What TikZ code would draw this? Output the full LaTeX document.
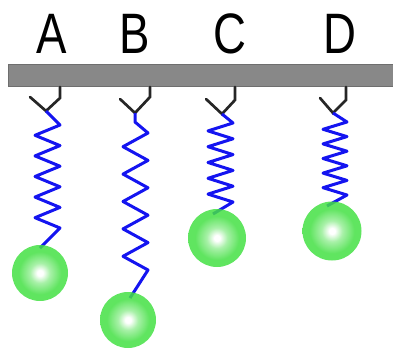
\documentclass[tikz,border=0pt]{standalone}
\usepackage{fontspec}
\setmainfont{Liberation Sans}
\usepackage{graphicx}
\definecolor{ballgreen}{RGB}{68,224,68}
\definecolor{barfill}{RGB}{136,136,136}
\definecolor{barline}{RGB}{110,110,110}
\definecolor{springblue}{RGB}{20,20,240}
\pgfdeclareradialshading{ballshade}{\pgfpoint{0bp}{0bp}}{%
  color(0bp)=(white); color(2.5bp)=(white); color(9bp)=(ballgreen!55!white); color(19bp)=(ballgreen); color(25bp)=(ballgreen); color(50bp)=(ballgreen)}
\newcommand{\drawspring}[7]{% start, end, xL, xR, y1, y6, extra
  \pgfmathsetmacro{\sp}{(#6-#5)/5}
  \draw[springst] (#1) #7 -- (#4,#5)
    \foreach \i in {1,...,5} { -- (#3,{#5+(\i-0.5)*\sp}) -- (#4,{#5+\i*\sp}) } -- (#2);
}
\begin{document}
\begin{tikzpicture}[x=1pt,y=-1pt,
  hookst/.style={line width=2.7pt,black!85,line cap=round,line join=miter},
  springst/.style={line width=3pt,springblue,line join=round},
  ballst/.style={circle,minimum size=#1,inner sep=0pt,shading=ballshade,fill opacity=0.85},
  lab/.style={anchor=base,inner sep=0pt,font=\fontsize{57}{57}\selectfont}]
\useasboundingbox (0,0) rectangle (393,351);
% labels
\node[lab] (la) at (52,53) {\scalebox{0.8}[1]{A}};
\node[lab] (lb) at (135,53) {\scalebox{0.8}[1]{B}};
\node[lab] (lc) at (230,53) {\scalebox{0.8}[1]{C}};
\node[lab] (ld) at (340,53) {\scalebox{0.8}[1]{D}};
% bar
\draw[barline,fill=barfill,line width=0.8pt] (8,64.5) rectangle (394,86.5);
% hooks
\coordinate (ta) at (46,111);
\coordinate (tb) at (135,113);
\coordinate (tc) at (222,114);
\coordinate (td) at (333,113);
\draw[hookst] (60,87) -- (60,98) -- (ta) -- (30,97);
\draw[hookst] (150,87) -- (150,97) -- (tb) -- (120,99);
\draw[hookst] (235,87) -- (235,100) -- (tc) -- (206,99);
\draw[hookst] (346,87) -- (346,100) -- (td) -- (320,98);
% spring ends
\coordinate (ea) at (40,248);
\coordinate (eb) at (130,298);
\coordinate (ec) at (213,214);
\coordinate (ed) at (327,206);
% springs
\drawspring{ta}{ea}{35}{60}{125}{228}{}
\drawspring{tb}{eb}{123}{148}{133}{270}{-- (135,122)}
\drawspring{tc}{ec}{208}{233}{123}{202}{}
\drawspring{td}{ed}{323}{347}{122}{195}{}
% balls
\node[ballst=56pt] (ba) at (40,273) {};
\node[ballst=56pt] (bb) at (128,320) {};
\node[ballst=58pt] (bc) at (217,238) {};
\node[ballst=59pt] (bd) at (332,231) {};
\end{tikzpicture}
\end{document}
